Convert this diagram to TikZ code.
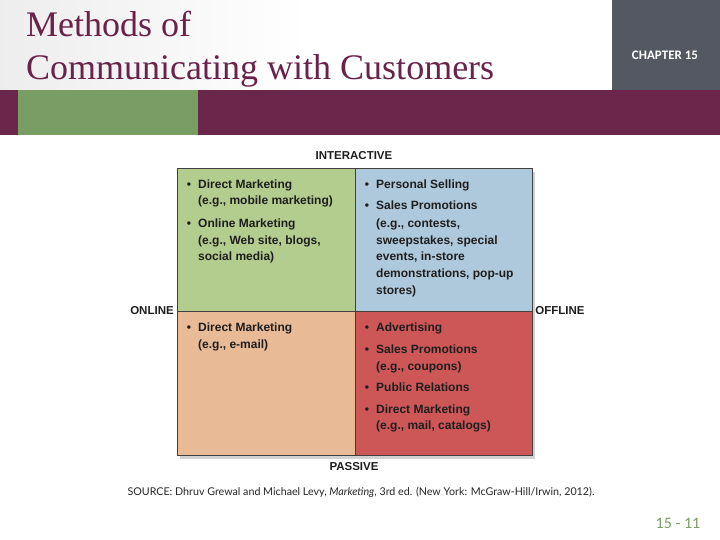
\documentclass[tikz,border=0pt]{standalone}
\usepackage{fontspec}
\setmainfont{Liberation Sans}
\newfontfamily\titlefont{Liberation Serif}
\newfontfamily\srcfont{Lato}
\newfontfamily\pgfont{Carlito}
\usetikzlibrary{shadows}
\definecolor{maroon}{HTML}{6B264C}
\definecolor{titlered}{HTML}{6A2249}
\definecolor{slate}{HTML}{535862}
\definecolor{bandgreen}{HTML}{789E64}
\definecolor{qgreen}{HTML}{B3CD8F}
\definecolor{qblue}{HTML}{AFC9DC}
\definecolor{qorange}{HTML}{E8BA96}
\definecolor{qred}{HTML}{CD5757}
\definecolor{qtext}{HTML}{1E1E1E}
\begin{document}
\begin{tikzpicture}[x=1pt,y=-1pt,line width=0.4pt,every node/.style={inner sep=0pt},
  qtxt/.style={anchor=base west,font=\bfseries\fontsize{12}{12}\selectfont,text=qtext},
  bul/.style={anchor=base,font=\bfseries\fontsize{12}{12}\selectfont,text=qtext},
  axlbl/.style={font=\bfseries\fontsize{11.5}{12}\selectfont,text=qtext}]
\useasboundingbox (0,0) rectangle (720,540);
\fill[white] (0,0) rectangle (720,540);
\shade[left color=black!7,right color=white,middle color=white] (0,0) rectangle (612,90);
\fill[slate] (612,0) rectangle (720,90);
\fill[maroon] (0,90) rectangle (720,135);
\fill[bandgreen] (18,90) rectangle (198,135);
\node[anchor=base west,font=\titlefont\fontsize{36}{38}\selectfont,text=titlered] (t1) at (26,37) {Methods of};
\node[anchor=base west,font=\titlefont\fontsize{36}{38}\selectfont,text=titlered] (t2) at (26,80) {Communicating with Customers};
\node[font=\pgfont\bfseries\fontsize{13}{14}\selectfont,text=white] (ch) at (665,55) {CHAPTER 15};
\coordinate (NW) at (177,168);
\coordinate (N) at (355,168);
\coordinate (NE) at (532,168);
\coordinate (W) at (177,311);
\coordinate (C) at (355,311);
\coordinate (E) at (532,311);
\coordinate (SW) at (177,455);
\coordinate (S) at (355,455);
\coordinate (SE) at (532,455);
\fill[black!40,drop shadow={opacity=0.35,shadow xshift=3pt,shadow yshift=-4pt}] (NW) rectangle (SE);
\fill[qgreen] (NW) rectangle (C);
\fill[qblue] (N) rectangle (E);
\fill[qorange] (W) rectangle (S);
\fill[qred] (C) rectangle (SE);
\draw[black!75] (NW) rectangle (SE);
\draw[black!75] (N) -- (S);
\draw[black!75] (W) -- (E);
\node[axlbl] (int) at (354,156) {INTERACTIVE};
\node[axlbl] (onl) at (152,311) {ONLINE};
\node[axlbl] (off) at (560,311) {OFFLINE};
\node[axlbl] (pas) at (354,467) {PASSIVE};
\node[bul] (b1) at (189,189) {\textbullet};
\node[qtxt] (a1) at (198,189) {Direct Marketing};
\node[qtxt] (a2) at (198,205) {(e.g., mobile marketing)};
\node[bul] (b2) at (189,227) {\textbullet};
\node[qtxt] (a3) at (198,227) {Online Marketing};
\node[qtxt] (a4) at (198,244) {(e.g., Web site, blogs,};
\node[qtxt] (a5) at (198,260) {social media)};
\node[bul] (b3) at (367,189) {\textbullet};
\node[qtxt] (c1) at (376,189) {Personal Selling};
\node[bul] (b4) at (367,210) {\textbullet};
\node[qtxt] (c2) at (376,210) {Sales Promotions};
\node[qtxt] (c3) at (376,227) {(e.g., contests,};
\node[qtxt] (c4) at (376,244) {sweepstakes, special};
\node[qtxt] (c5) at (376,260) {events, in-store};
\node[qtxt] (c6) at (376,277) {demonstrations, pop-up};
\node[qtxt] (c7) at (376,294) {stores)};
\node[bul] (b5) at (189,331) {\textbullet};
\node[qtxt] (d1) at (198,331) {Direct Marketing};
\node[qtxt] (d2) at (198,348) {(e.g., e-mail)};
\node[bul] (b6) at (367,331) {\textbullet};
\node[qtxt] (e1) at (376,331) {Advertising};
\node[bul] (b7) at (367,353) {\textbullet};
\node[qtxt] (e2) at (376,353) {Sales Promotions};
\node[qtxt] (e3) at (376,370) {(e.g., coupons)};
\node[bul] (b8) at (367,391) {\textbullet};
\node[qtxt] (e4) at (376,391) {Public Relations};
\node[bul] (b9) at (367,413) {\textbullet};
\node[qtxt] (e5) at (376,413) {Direct Marketing};
\node[qtxt] (e6) at (376,429) {(e.g., mail, catalogs)};
\node[font=\srcfont\fontsize{10.7}{12}\selectfont,text=black!85] (src) at (361,492) {SOURCE: Dhruv Grewal and Michael Levy, \textit{Marketing}, 3rd ed. (New York: McGraw-Hill/Irwin, 2012).};
\node[font=\pgfont\fontsize{16}{17}\selectfont,text=bandgreen] (pg) at (678,523) {15 - 11};
\end{tikzpicture}
\end{document}
